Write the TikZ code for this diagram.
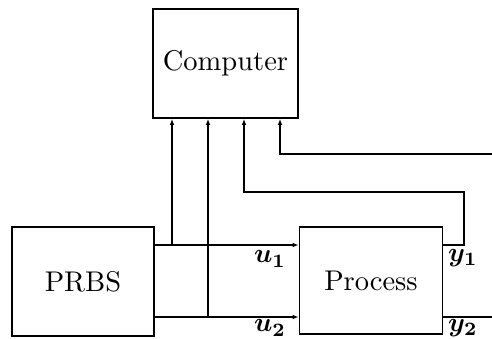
\documentclass[tikz,border=0pt]{standalone}
\usepackage{bm}
\usetikzlibrary{arrows.meta}
\begin{document}
\begin{tikzpicture}[x=1pt,y=-1pt,
  blk/.style={draw,line width=1.6pt,inner sep=0pt},
  conn/.style={line width=1.1pt},
  arr/.style={conn,-{Latex[length=6pt,width=4.5pt]}},
  lbl/.style={inner sep=0pt}]
\useasboundingbox (0,0) rectangle (492,339);
\node[blk,minimum width=145pt,minimum height=109pt] (comp) at (225.5,63.5) {\scalebox{2.85}{Computer}};
\node[blk,minimum width=142pt,minimum height=109pt] (prbs) at (83,281.5) {\scalebox{2.85}{PRBS}};
\node[blk,minimum width=143pt,minimum height=107pt] (proc) at (371,280.5) {\scalebox{2.85}{Process}};
\coordinate (a1) at (172,245);
\coordinate (a2) at (208,317);
\coordinate (a3) at (244,192);
\coordinate (a4) at (280,154);
\coordinate (c1) at (464,192);
\coordinate (c2) at (464,245);
\coordinate (e1) at (492,154);
\coordinate (e2) at (492,317);
% inputs
\draw[arr] (prbs.east |- a1) -- (proc.west |- a1);
\draw[arr] (prbs.east |- a2) -- (proc.west |- a2);
% taps to computer
\draw[arr] (a1) -- (a1 |- comp.south);
\draw[arr] (a2) -- (a2 |- comp.south);
\draw[arr] (proc.east |- c2) -- (c2) -- (c1) -- (a3) -- (a3 |- comp.south);
\draw[arr] (e1) -- (a4) -- (a4 |- comp.south);
\draw[conn] (proc.east |- e2) -- (e2);
% labels
\node[lbl] (lu1) at (270,259) {\scalebox{2.7}{$\bm{u_1}$}};
\node[lbl] (lu2) at (270,328) {\scalebox{2.7}{$\bm{u_2}$}};
\node[lbl] (ly1) at (463,258) {\scalebox{2.7}{$\bm{y_1}$}};
\node[lbl] (ly2) at (463,328) {\scalebox{2.7}{$\bm{y_2}$}};
\end{tikzpicture}
\end{document}
